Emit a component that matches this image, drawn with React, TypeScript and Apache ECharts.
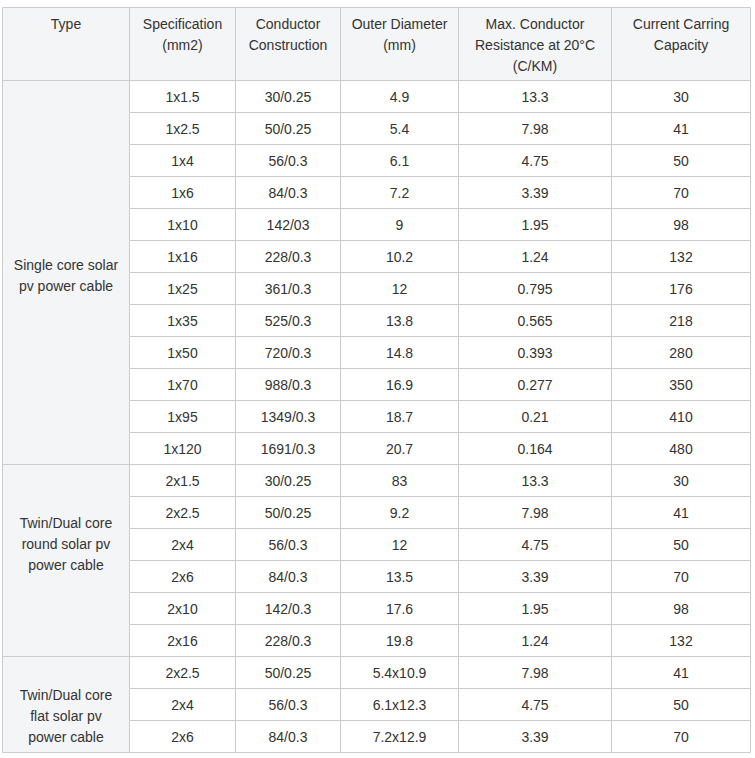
import React, { useEffect, useRef } from "react";
import * as echarts from "echarts";

// ---- data ----
const columnHeaders: string[][] = [
  ["Type"],
  ["Specification", "(mm2)"],
  ["Conductor", "Construction"],
  ["Outer Diameter", "(mm)"],
  ["Max. Conductor", "Resistance at 20°C", "(C/KM)"],
  ["Current Carring", "Capacity"],
];

const groupTypes: string[] = [
  "Single core solar\npv power cable",
  "Twin/Dual core\nround solar pv\npower cable",
  "Twin/Dual core\nflat solar pv\npower cable",
];
const groupSizes: number[] = [12, 6, 3];

const specification: string[] = [
  "1x1.5", "1x2.5", "1x4", "1x6", "1x10", "1x16", "1x25", "1x35", "1x50", "1x70", "1x95", "1x120",
  "2x1.5", "2x2.5", "2x4", "2x6", "2x10", "2x16",
  "2x2.5", "2x4", "2x6",
];
const construction: string[] = [
  "30/0.25", "50/0.25", "56/0.3", "84/0.3", "142/03", "228/0.3", "361/0.3", "525/0.3", "720/0.3", "988/0.3", "1349/0.3", "1691/0.3",
  "30/0.25", "50/0.25", "56/0.3", "84/0.3", "142/0.3", "228/0.3",
  "50/0.25", "56/0.3", "84/0.3",
];
const outerDiameter: string[] = [
  "4.9", "5.4", "6.1", "7.2", "9", "10.2", "12", "13.8", "14.8", "16.9", "18.7", "20.7",
  "83", "9.2", "12", "13.5", "17.6", "19.8",
  "5.4x10.9", "6.1x12.3", "7.2x12.9",
];
const resistance: string[] = [
  "13.3", "7.98", "4.75", "3.39", "1.95", "1.24", "0.795", "0.565", "0.393", "0.277", "0.21", "0.164",
  "13.3", "7.98", "4.75", "3.39", "1.95", "1.24",
  "7.98", "4.75", "3.39",
];
const capacity: string[] = [
  "30", "41", "50", "70", "98", "132", "176", "218", "280", "350", "410", "480",
  "30", "41", "50", "70", "98", "132",
  "41", "50", "70",
];

// ---- layout ----
const colEdges = [2.5, 129.5, 235.5, 340.5, 458.5, 611.5, 750.5];
const tableTop = 7.5;
const headerBottom = 80.5;
const rowH = 32;
const headerFirstLineY = 23.5;
const lineH = 21;
const groupLabelOffset = [3, -16.5, 11.5];
const borderColor = "#cccccc";
const shadeColor = "#f4f5f7";
const textColor = "#333333";
const fontFamily = '"Liberation Sans", Arial, sans-serif';

function buildGraphic() {
  const els: any[] = [];
  const left = colEdges[0];
  const right = colEdges[colEdges.length - 1];
  const nRows = specification.length;
  const bottom = headerBottom + nRows * rowH;

  // backgrounds
  els.push({
    type: "rect", silent: true,
    shape: { x: left, y: tableTop, width: right - left, height: bottom - tableTop },
    style: { fill: "#ffffff" },
  });
  els.push({
    type: "rect", silent: true,
    shape: { x: left, y: tableTop, width: right - left, height: headerBottom - tableTop },
    style: { fill: shadeColor },
  });
  els.push({
    type: "rect", silent: true,
    shape: { x: left, y: headerBottom, width: colEdges[1] - left, height: bottom - headerBottom },
    style: { fill: shadeColor },
  });

  // horizontal lines
  const groupBounds = new Set<number>();
  let acc = 0;
  groupSizes.forEach((s) => { acc += s; groupBounds.add(acc); });
  els.push({ type: "line", silent: true, shape: { x1: left, y1: tableTop, x2: right, y2: tableTop }, style: { stroke: borderColor, lineWidth: 1 } });
  els.push({ type: "line", silent: true, shape: { x1: left, y1: headerBottom, x2: right, y2: headerBottom }, style: { stroke: borderColor, lineWidth: 1 } });
  for (let r = 1; r <= nRows; r++) {
    const y = headerBottom + r * rowH;
    const x1 = groupBounds.has(r) ? left : colEdges[1];
    els.push({ type: "line", silent: true, shape: { x1, y1: y, x2: right, y2: y }, style: { stroke: borderColor, lineWidth: 1 } });
  }
  // vertical lines
  colEdges.forEach((x) => {
    els.push({ type: "line", silent: true, shape: { x1: x, y1: tableTop, x2: x, y2: bottom }, style: { stroke: borderColor, lineWidth: 1 } });
  });

  const textStyle = (text: string) => ({
    text, fill: textColor, fontSize: 14, fontFamily, align: "center", verticalAlign: "middle", lineHeight: lineH,
  });

  // header texts
  columnHeaders.forEach((lines, c) => {
    const cx = (colEdges[c] + colEdges[c + 1]) / 2;
    lines.forEach((ln, i) => {
      els.push({ type: "text", silent: true, x: cx, y: headerFirstLineY + i * lineH, style: textStyle(ln) });
    });
  });

  // group labels
  let start = 0;
  groupSizes.forEach((s, g) => {
    const y0 = headerBottom + start * rowH;
    const y1 = headerBottom + (start + s) * rowH;
    els.push({
      type: "text", silent: true,
      x: (colEdges[0] + colEdges[1]) / 2,
      y: (y0 + y1) / 2 + groupLabelOffset[g],
      style: textStyle(groupTypes[g]),
    });
    start += s;
  });

  // data cells
  const cols = [specification, construction, outerDiameter, resistance, capacity];
  cols.forEach((arr, ci) => {
    const c = ci + 1;
    const cx = (colEdges[c] + colEdges[c + 1]) / 2;
    arr.forEach((v, r) => {
      els.push({ type: "text", silent: true, x: cx, y: headerBottom + r * rowH + rowH / 2, style: textStyle(v) });
    });
  });

  return els;
}

export default function App() {
  const ref = useRef<HTMLDivElement>(null);
  useEffect(() => {
    if (!ref.current) return;
    const chart = echarts.init(ref.current, undefined, { renderer: "svg" });
    chart.setOption({
      animation: false,
      backgroundColor: "#ffffff",
      graphic: { elements: buildGraphic() },
    });
    return () => chart.dispose();
  }, []);
  return (
    <div
      ref={ref}
      style={{ position: "fixed", left: 0, top: 0, width: 755, height: 758, background: "#fff" }}
    />
  );
}
